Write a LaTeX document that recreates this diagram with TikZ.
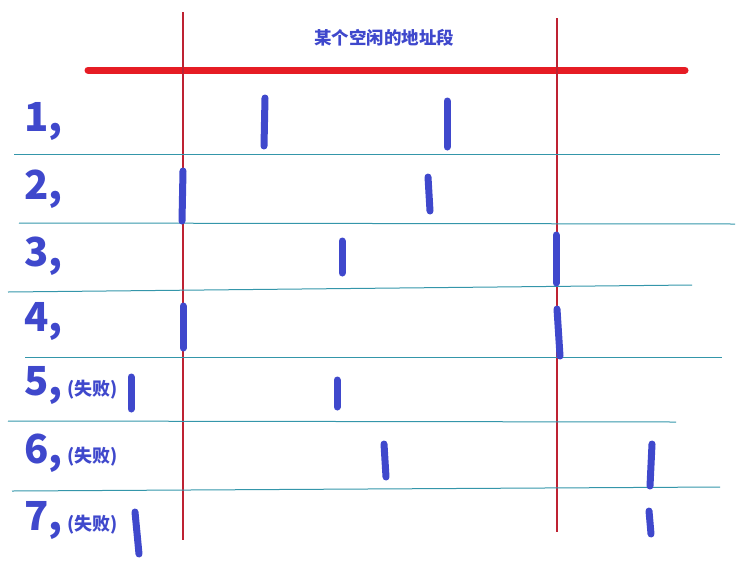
\documentclass[tikz,border=0pt]{standalone}
\usepackage{fontspec}
\newfontfamily\cjk{Noto Sans CJK SC}
\usepackage{tikz}
\usetikzlibrary{positioning}
\definecolor{markblue}{RGB}{63,72,204}
\definecolor{barred}{RGB}{230,28,36}
\definecolor{thinred}{RGB}{190,34,50}
\definecolor{rowline}{RGB}{52,150,170}

\tikzset{
  num/.style={anchor=west, text=markblue, font=\cjk\bfseries\fontsize{40}{40}\selectfont, inner sep=0pt},
  fail/.style={anchor=west, text=markblue, font=\cjk\bfseries\fontsize{18}{18}\selectfont, inner sep=0pt},
  rangemark/.style={draw=markblue, line width=7pt, line cap=round},
  sep/.style={draw=rowline, line width=1pt}
}

\begin{document}
\begin{tikzpicture}[x=1pt,y=-1pt]
\useasboundingbox (0,0) rectangle (741,563);
% title and the free segment
\node[text=markblue, font=\cjk\bfseries\fontsize{17.5}{17.5}\selectfont] (title) at (384,38) {某个空闲的地址段};
\draw[barred, line width=7pt, line cap=round] (88,70) -- (685,70);
\draw[thinred, line width=1.1pt] (183,12) -- (183,540);
\draw[thinred, line width=1.1pt] (557,18) -- (557,532);
% row separators
\draw[sep] (14,154) -- (720,154);
\draw[sep] (19,223) -- (735,224);
\draw[sep] (8,292) -- (692,285);
\draw[sep] (25,357) -- (722,357);
\draw[sep] (8,421) -- (676,422);
\draw[sep] (12,491) -- (720,487);
% row numbers
\foreach \n/\y in {1/122,2/189,3/256,4/322,5/386,6/453,7/521}
    \node[num] (n\n) at (24,\y) {\n,};
\foreach \n in {5,6,7}
    \node[fail, right=4pt of n\n, yshift=-4pt] (f\n) {(失败)};
% requested ranges
\draw[rangemark] (265,98) -- (264,146);
\draw[rangemark] (447,101) -- (447,147);
\draw[rangemark] (183,171) -- (182,221);
\draw[rangemark] (428,177) -- (430,211);
\draw[rangemark] (342,241) -- (342,273);
\draw[rangemark] (556,235) -- (556,283);
\draw[rangemark] (183,306) -- (183,348);
\draw[rangemark] (557,309) -- (560,356);
\draw[rangemark] (131,377) -- (131,409);
\draw[rangemark] (337,380) -- (337,407);
\draw[rangemark] (384,444) -- (386,477);
\draw[rangemark] (652,444) -- (650,486);
\draw[rangemark] (135,512) -- (139,554);
\draw[rangemark] (649,511) -- (651,534);
\end{tikzpicture}
\end{document}
